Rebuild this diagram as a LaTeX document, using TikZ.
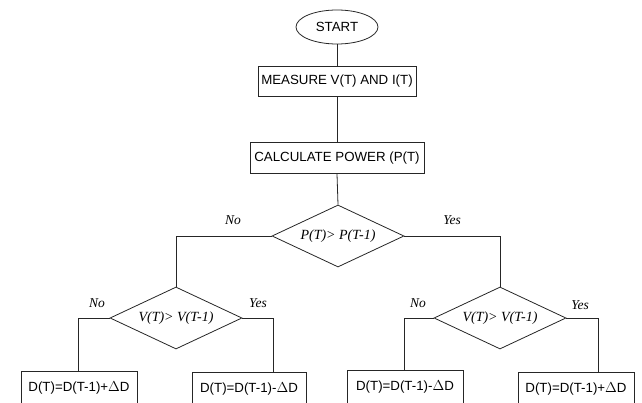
\documentclass[tikz,border=0pt]{standalone}
\usepackage{fontspec}
\setmainfont{Liberation Serif}
\setsansfont{Liberation Sans}
\usetikzlibrary{shapes.geometric,calc}
\begin{document}
\begin{tikzpicture}[x=1pt,y=-1pt,
  line width=0.8pt,
  conn/.style={draw=black!85},
  procbox/.style={draw=black!85,rectangle,inner sep=0pt,font=\sffamily\fontsize{13.3}{16}\selectfont},
  termbox/.style={draw=black!85,ellipse,inner sep=0pt,minimum width=82pt,minimum height=34pt,font=\sffamily\fontsize{13.3}{16}\selectfont},
  decbox/.style={draw=black!85,diamond,inner sep=0pt,aspect=2.13,minimum width=132pt,minimum height=62pt,font=\itshape\fontsize{14}{16}\selectfont},
  lbl/.style={font=\itshape\fontsize{13.5}{16}\selectfont,inner sep=0pt}]
\useasboundingbox (0,0) rectangle (642,403);
\clip (0,0) rectangle (642,403);
\node[termbox] (start) at (337,27) {START};
\node[procbox,minimum width=158pt,minimum height=30pt] (meas) at (337,81) {MEASURE V(T) AND I(T)};
\node[procbox,minimum width=174pt,minimum height=31pt] (calc) at (337,158) {CALCULATE POWER (P(T)};
\node[decbox] (d1) at (338,236) {P(T)> P(T-1)};
\node[decbox] (d2) at (176,318) {V(T)> V(T-1)};
\node[decbox] (d3) at (500,318) {V(T)> V(T-1)};
\node[procbox,minimum width=116pt,minimum height=34pt] (b1) at (79,388) {D(T)=D(T-1)+$\Delta$D};
\node[procbox,minimum width=114pt,minimum height=34pt] (b2) at (249,389) {D(T)=D(T-1)-$\Delta$D};
\node[procbox,minimum width=116pt,minimum height=34pt] (b3) at (405,387) {D(T)=D(T-1)-$\Delta$D};
\node[procbox,minimum width=116pt,minimum height=34pt] (b4) at (576,389) {D(T)=D(T-1)+$\Delta$D};
\draw[conn] (start.south) -- (meas.north);
\draw[conn] (meas.south) -- (calc.north);
\draw[conn] (calc.south) -- (d1.north);
\draw[conn] (d1.west) -| (d2.north);
\draw[conn] (d1.east) -| (d3.north);
\draw[conn] (d2.west) -| ($(b1.north)+(-1,0)$);
\draw[conn] (d2.east) -| ($(b2.north)+(24,0)$);
\draw[conn] (d3.west) -| ($(b3.north)+(-1,0)$);
\draw[conn] (d3.east) -| ($(b4.north)+(22,0)$);
\node[lbl] (n1) at (233,220) {No};
\node[lbl] (y1) at (452,220) {Yes};
\node[lbl] (n2) at (97,303) {No};
\node[lbl] (y2) at (258,303) {Yes};
\node[lbl] (n3) at (418,303) {No};
\node[lbl] (y3) at (580,305) {Yes};
\end{tikzpicture}
\end{document}
